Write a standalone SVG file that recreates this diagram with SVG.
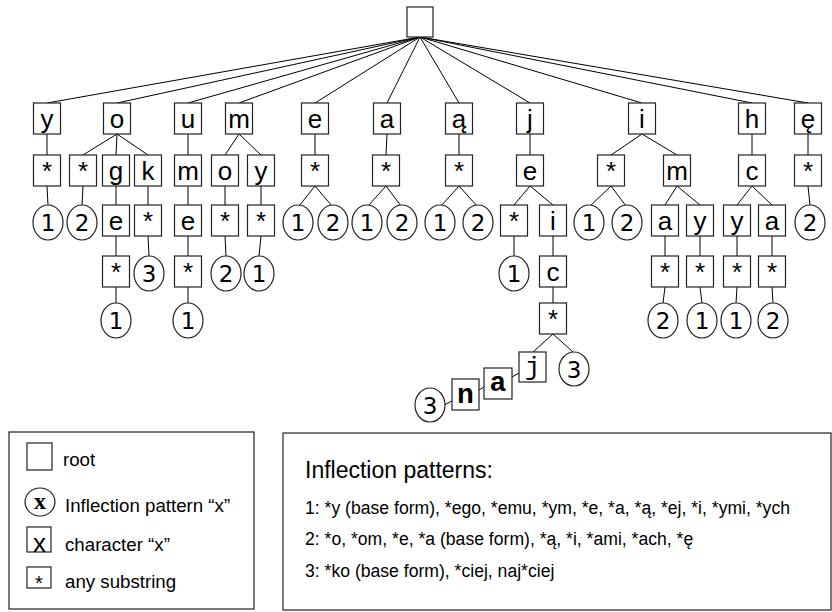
<svg xmlns="http://www.w3.org/2000/svg" width="832" height="612" viewBox="0 0 832 612">
<style>
rect.n{fill:#fff;stroke:#222;stroke-width:1.2}
ellipse.p{fill:#fff;stroke:#222;stroke-width:1.2}
text.c{font-family:"Liberation Sans",Arial,sans-serif;font-size:26px;text-anchor:middle;fill:#000}
text.d{font-family:"DejaVu Sans",sans-serif;font-size:23px;text-anchor:middle;fill:#000}
text.m{font-family:"Liberation Mono","Courier New",monospace;font-size:28px;font-weight:bold;text-anchor:middle;fill:#000}
text.l{font-family:"Liberation Sans",Arial,sans-serif;font-size:18.7px;fill:#000}
text.t{font-family:"Liberation Sans",Arial,sans-serif;font-size:17.6px;fill:#000}
#edges line{stroke:#000;stroke-width:1}
</style>
<g id="edges">
<line x1="420" y1="37" x2="47" y2="103"/><line x1="420" y1="37" x2="117" y2="103"/><line x1="420" y1="37" x2="188" y2="103"/><line x1="420" y1="37" x2="239" y2="103"/><line x1="420" y1="37" x2="315" y2="103"/><line x1="420" y1="37" x2="387" y2="103"/><line x1="420" y1="37" x2="459" y2="103"/><line x1="420" y1="37" x2="530" y2="103"/><line x1="420" y1="37" x2="642" y2="103"/><line x1="420" y1="37" x2="752" y2="103"/><line x1="420" y1="37" x2="808" y2="103"/>
<line x1="47" y1="134" x2="47" y2="155"/><line x1="117" y1="134" x2="83" y2="155"/><line x1="117" y1="134" x2="116" y2="155"/><line x1="117" y1="134" x2="148" y2="155"/><line x1="188" y1="134" x2="188" y2="155"/><line x1="239" y1="134" x2="225" y2="155"/><line x1="239" y1="134" x2="261" y2="155"/><line x1="315" y1="134" x2="315" y2="155"/><line x1="387" y1="134" x2="386" y2="155"/><line x1="459" y1="134" x2="459" y2="155"/><line x1="530" y1="134" x2="530" y2="155"/><line x1="642" y1="134" x2="611" y2="155"/><line x1="642" y1="134" x2="677" y2="155"/><line x1="752" y1="134" x2="752" y2="155"/><line x1="808" y1="134" x2="808" y2="155"/>
<line x1="47" y1="186" x2="48" y2="205"/><line x1="83" y1="186" x2="82" y2="205"/><line x1="116" y1="186" x2="116" y2="205"/><line x1="148" y1="186" x2="148" y2="205"/><line x1="188" y1="186" x2="188" y2="205"/><line x1="225" y1="186" x2="225" y2="205"/><line x1="261" y1="186" x2="261" y2="205"/><line x1="315" y1="186" x2="299" y2="206"/><line x1="315" y1="186" x2="332" y2="206"/><line x1="386" y1="186" x2="368" y2="206"/><line x1="386" y1="186" x2="401" y2="206"/><line x1="459" y1="186" x2="441" y2="206"/><line x1="459" y1="186" x2="477" y2="206"/><line x1="530" y1="186" x2="514" y2="205"/><line x1="530" y1="186" x2="553" y2="205"/><line x1="611" y1="186" x2="590" y2="206"/><line x1="611" y1="186" x2="626" y2="206"/><line x1="677" y1="186" x2="665" y2="205"/><line x1="677" y1="186" x2="700" y2="205"/><line x1="752" y1="186" x2="737" y2="205"/><line x1="752" y1="186" x2="772" y2="205"/><line x1="808" y1="186" x2="810" y2="205"/>
<line x1="116" y1="236" x2="116" y2="256"/><line x1="148" y1="236" x2="149" y2="256"/><line x1="188" y1="236" x2="188" y2="256"/><line x1="225" y1="236" x2="226" y2="256"/><line x1="261" y1="236" x2="259" y2="256"/><line x1="514" y1="236" x2="514" y2="256"/><line x1="553" y1="236" x2="553" y2="256"/><line x1="665" y1="236" x2="665" y2="256"/><line x1="700" y1="236" x2="700" y2="256"/><line x1="737" y1="236" x2="737" y2="256"/><line x1="772" y1="236" x2="772" y2="256"/>
<line x1="116" y1="287" x2="116" y2="303"/><line x1="188" y1="287" x2="188" y2="303"/><line x1="553" y1="287" x2="553" y2="303"/><line x1="665" y1="287" x2="663" y2="303"/><line x1="700" y1="287" x2="702" y2="303"/><line x1="737" y1="287" x2="736" y2="303"/><line x1="772" y1="287" x2="773" y2="303"/>
<line x1="553" y1="334" x2="533" y2="352"/><line x1="553" y1="334" x2="573" y2="352"/>
<line x1="519" y1="373" x2="512" y2="377"/><line x1="484" y1="387" x2="479" y2="390"/><line x1="452" y1="401" x2="444" y2="405"/>
</g>
<g id="root"><rect class="n" x="407" y="7" width="26" height="30"/></g>
<g id="n-y"><rect class="n" x="33.5" y="103" width="27" height="31"/><text class="c" x="47" y="128">y</text></g>
<g id="n-o"><rect class="n" x="103.5" y="103" width="27" height="31"/><text class="c" x="117" y="128">o</text></g>
<g id="n-u"><rect class="n" x="174.5" y="103" width="27" height="31"/><text class="c" x="188" y="128">u</text></g>
<g id="n-m"><rect class="n" x="225.5" y="103" width="27" height="31"/><text class="c" x="239" y="128">m</text></g>
<g id="n-e"><rect class="n" x="301.5" y="103" width="27" height="31"/><text class="c" x="315" y="128">e</text></g>
<g id="n-a"><rect class="n" x="373.5" y="103" width="27" height="31"/><text class="c" x="387" y="128">a</text></g>
<g id="n-a1"><rect class="n" x="445.5" y="103" width="27" height="31"/><text class="c" x="459" y="128">ą</text></g>
<g id="n-j"><rect class="n" x="516.5" y="103" width="27" height="31"/><text class="c" x="530" y="128">j</text></g>
<g id="n-i"><rect class="n" x="628.5" y="103" width="27" height="31"/><text class="c" x="642" y="128">i</text></g>
<g id="n-h"><rect class="n" x="738.5" y="103" width="27" height="31"/><text class="c" x="752" y="128">h</text></g>
<g id="n-e1"><rect class="n" x="794.5" y="103" width="27" height="31"/><text class="c" x="808" y="128">ę</text></g>
<g id="n-y-s"><rect class="n" x="33.5" y="155" width="27" height="31"/><text class="c" x="47" y="180">*</text></g>
<g id="n-o-s"><rect class="n" x="69.5" y="155" width="27" height="31"/><text class="c" x="83" y="180">*</text></g>
<g id="n-o-g"><rect class="n" x="102.5" y="155" width="27" height="31"/><text class="c" x="116" y="180">g</text></g>
<g id="n-o-k"><rect class="n" x="134.5" y="155" width="27" height="31"/><text class="c" x="148" y="180">k</text></g>
<g id="n-u-m"><rect class="n" x="174.5" y="155" width="27" height="31"/><text class="c" x="188" y="180">m</text></g>
<g id="n-m-o"><rect class="n" x="211.5" y="155" width="27" height="31"/><text class="c" x="225" y="180">o</text></g>
<g id="n-m-y"><rect class="n" x="247.5" y="155" width="27" height="31"/><text class="c" x="261" y="180">y</text></g>
<g id="n-e-s"><rect class="n" x="301.5" y="155" width="27" height="31"/><text class="c" x="315" y="180">*</text></g>
<g id="n-a-s"><rect class="n" x="372.5" y="155" width="27" height="31"/><text class="c" x="386" y="180">*</text></g>
<g id="n-a1-s"><rect class="n" x="445.5" y="155" width="27" height="31"/><text class="c" x="459" y="180">*</text></g>
<g id="n-j-e"><rect class="n" x="516.5" y="155" width="27" height="31"/><text class="c" x="530" y="180">e</text></g>
<g id="n-i-s"><rect class="n" x="597.5" y="155" width="27" height="31"/><text class="c" x="611" y="180">*</text></g>
<g id="n-i-m"><rect class="n" x="663.5" y="155" width="27" height="31"/><text class="c" x="677" y="180">m</text></g>
<g id="n-h-c"><rect class="n" x="738.5" y="155" width="27" height="31"/><text class="c" x="752" y="180">c</text></g>
<g id="n-e1-s"><rect class="n" x="794.5" y="155" width="27" height="31"/><text class="c" x="808" y="180">*</text></g>
<g id="p-y-1"><ellipse class="p" cx="48" cy="222.5" rx="15" ry="17.5"/><text class="d" x="48" y="231">1</text></g>
<g id="p-o-2"><ellipse class="p" cx="82" cy="222.5" rx="15" ry="17.5"/><text class="d" x="82" y="231">2</text></g>
<g id="n-o-g-e"><rect class="n" x="102.5" y="205" width="27" height="31"/><text class="c" x="116" y="230">e</text></g>
<g id="n-o-k-s"><rect class="n" x="134.5" y="205" width="27" height="31"/><text class="c" x="148" y="230">*</text></g>
<g id="n-u-m-e"><rect class="n" x="174.5" y="205" width="27" height="31"/><text class="c" x="188" y="230">e</text></g>
<g id="n-m-o-s"><rect class="n" x="211.5" y="205" width="27" height="31"/><text class="c" x="225" y="230">*</text></g>
<g id="n-m-y-s"><rect class="n" x="247.5" y="205" width="27" height="31"/><text class="c" x="261" y="230">*</text></g>
<g id="p-e-1"><ellipse class="p" cx="298" cy="222.5" rx="15" ry="17.5"/><text class="d" x="298" y="231">1</text></g>
<g id="p-e-2"><ellipse class="p" cx="333" cy="222.5" rx="15" ry="17.5"/><text class="d" x="333" y="231">2</text></g>
<g id="p-a-1"><ellipse class="p" cx="367" cy="222.5" rx="15" ry="17.5"/><text class="d" x="367" y="231">1</text></g>
<g id="p-a-2"><ellipse class="p" cx="402" cy="222.5" rx="15" ry="17.5"/><text class="d" x="402" y="231">2</text></g>
<g id="p-a1-1"><ellipse class="p" cx="440" cy="222.5" rx="15" ry="17.5"/><text class="d" x="440" y="231">1</text></g>
<g id="p-a1-2"><ellipse class="p" cx="478" cy="222.5" rx="15" ry="17.5"/><text class="d" x="478" y="231">2</text></g>
<g id="n-j-e-s"><rect class="n" x="500.5" y="205" width="27" height="31"/><text class="c" x="514" y="230">*</text></g>
<g id="n-j-e-i"><rect class="n" x="539.5" y="205" width="27" height="31"/><text class="c" x="553" y="230">i</text></g>
<g id="p-i-1"><ellipse class="p" cx="589" cy="222.5" rx="15" ry="17.5"/><text class="d" x="589" y="231">1</text></g>
<g id="p-i-2"><ellipse class="p" cx="627" cy="222.5" rx="15" ry="17.5"/><text class="d" x="627" y="231">2</text></g>
<g id="n-i-m-a"><rect class="n" x="651.5" y="205" width="27" height="31"/><text class="c" x="665" y="230">a</text></g>
<g id="n-i-m-y"><rect class="n" x="686.5" y="205" width="27" height="31"/><text class="c" x="700" y="230">y</text></g>
<g id="n-h-c-y"><rect class="n" x="723.5" y="205" width="27" height="31"/><text class="c" x="737" y="230">y</text></g>
<g id="n-h-c-a"><rect class="n" x="758.5" y="205" width="27" height="31"/><text class="c" x="772" y="230">a</text></g>
<g id="p-e1-2"><ellipse class="p" cx="810" cy="222.5" rx="15" ry="17.5"/><text class="d" x="810" y="231">2</text></g>
<g id="n-o-g-e-s"><rect class="n" x="102.5" y="256" width="27" height="31"/><text class="c" x="116" y="281">*</text></g>
<g id="p-k-3"><ellipse class="p" cx="149" cy="273.5" rx="15" ry="17.5"/><text class="d" x="149" y="282">3</text></g>
<g id="n-u-m-e-s"><rect class="n" x="174.5" y="256" width="27" height="31"/><text class="c" x="188" y="281">*</text></g>
<g id="p-mo-2"><ellipse class="p" cx="226" cy="273.5" rx="15" ry="17.5"/><text class="d" x="226" y="282">2</text></g>
<g id="p-my-1"><ellipse class="p" cx="259" cy="273.5" rx="15" ry="17.5"/><text class="d" x="259" y="282">1</text></g>
<g id="p-je-1"><ellipse class="p" cx="514" cy="273.5" rx="15" ry="17.5"/><text class="d" x="514" y="282">1</text></g>
<g id="n-j-e-i-c"><rect class="n" x="539.5" y="256" width="27" height="31"/><text class="c" x="553" y="281">c</text></g>
<g id="n-i-m-a-s"><rect class="n" x="651.5" y="256" width="27" height="31"/><text class="c" x="665" y="281">*</text></g>
<g id="n-i-m-y-s"><rect class="n" x="686.5" y="256" width="27" height="31"/><text class="c" x="700" y="281">*</text></g>
<g id="n-h-c-y-s"><rect class="n" x="723.5" y="256" width="27" height="31"/><text class="c" x="737" y="281">*</text></g>
<g id="n-h-c-a-s"><rect class="n" x="758.5" y="256" width="27" height="31"/><text class="c" x="772" y="281">*</text></g>
<g id="p-oge-1"><ellipse class="p" cx="116" cy="320.5" rx="15" ry="17.5"/><text class="d" x="116" y="329">1</text></g>
<g id="p-ume-1"><ellipse class="p" cx="188" cy="320.5" rx="15" ry="17.5"/><text class="d" x="188" y="329">1</text></g>
<g id="n-j-e-i-c-s"><rect class="n" x="539.5" y="303" width="27" height="31"/><text class="c" x="553" y="328">*</text></g>
<g id="p-ima-2"><ellipse class="p" cx="663" cy="320.5" rx="15" ry="17.5"/><text class="d" x="663" y="329">2</text></g>
<g id="p-imy-1"><ellipse class="p" cx="702" cy="320.5" rx="15" ry="17.5"/><text class="d" x="702" y="329">1</text></g>
<g id="p-hcy-1"><ellipse class="p" cx="736" cy="320.5" rx="15" ry="17.5"/><text class="d" x="736" y="329">1</text></g>
<g id="p-hca-2"><ellipse class="p" cx="773" cy="320.5" rx="15" ry="17.5"/><text class="d" x="773" y="329">2</text></g>
<g id="n-naj-j"><rect class="n" x="519" y="352" width="27" height="30"/><text class="c" x="532.5" y="375" style="font-family:'Liberation Mono',monospace">j</text></g>
<g id="p-c-3"><ellipse class="p" cx="574" cy="369" rx="15" ry="17"/><text class="d" x="574" y="377.5">3</text></g>
<g id="n-naj-a"><rect class="n" x="484" y="368" width="28" height="31"/><text class="m" x="498" y="391">a</text></g>
<g id="n-naj-n"><rect class="n" x="452" y="379" width="27" height="31"/><text class="m" x="465.5" y="403">n</text></g>
<g id="p-naj-3"><ellipse class="p" cx="430" cy="405" rx="15" ry="17"/><text class="d" x="430" y="413.5">3</text></g>
<g id="legend">
<rect x="9" y="432" width="245" height="177" fill="#fff" stroke="#222" stroke-width="1.2"/>
<rect class="n" x="27" y="443" width="25" height="27"/>
<text class="l" x="63" y="466">root</text>
<ellipse class="p" cx="40" cy="502" rx="15" ry="14"/>
<text x="40" y="509" text-anchor="middle" style="font-family:'Liberation Serif',serif;font-weight:bold;font-size:24px">x</text>
<text class="l" x="65" y="512">Inflection pattern “x”</text>
<rect class="n" x="27" y="527" width="24" height="25"/>
<text x="39.5" y="552" text-anchor="middle" style="font-family:'Liberation Sans',sans-serif;font-size:26px">x</text>
<text class="l" x="65" y="551">character “x”</text>
<rect class="n" x="27" y="567" width="24" height="21"/>
<text class="c" x="39" y="590" style="font-size:20px">*</text>
<text class="l" x="65" y="588">any substring</text>
</g>
<g id="patterns">
<rect x="283" y="433" width="548" height="177" fill="#fff" stroke="#222" stroke-width="1.2"/>
<text x="305" y="478" style="font-family:'Liberation Sans',sans-serif;font-size:23px">Inflection patterns:</text>
<text class="t" x="305" y="514">1: *y (base form), *ego, *emu, *ym, *e, *a, *ą, *ej, *i, *ymi, *ych</text>
<text class="t" x="305" y="545">2: *o, *om, *e, *a (base form), *ą, *i, *ami, *ach, *ę</text>
<text class="t" x="305" y="577">3: *ko (base form), *ciej, naj*ciej</text>
</g>
</svg>
